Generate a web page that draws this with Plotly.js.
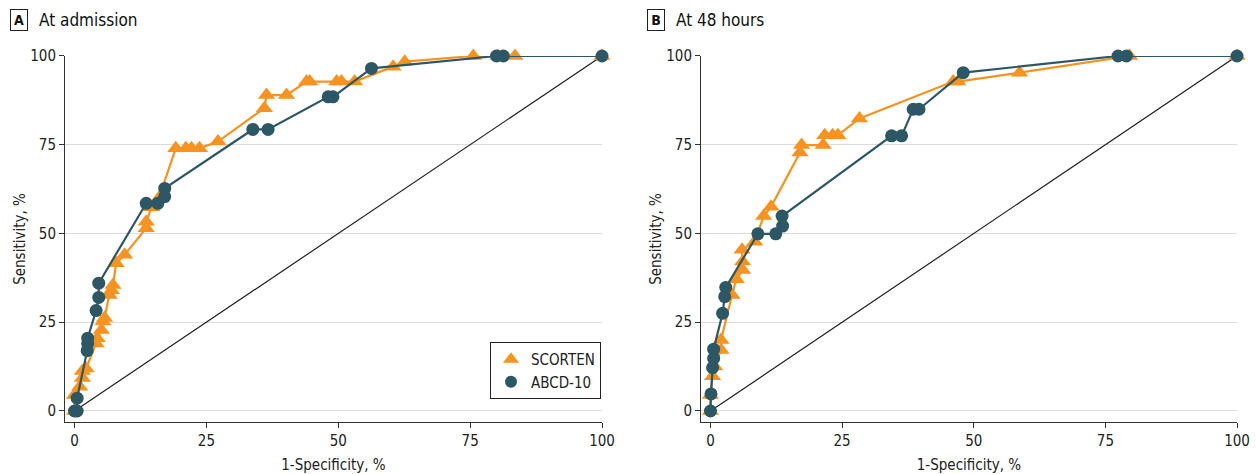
<!DOCTYPE html>
<html>
<head>
<meta charset="utf-8">
<script src="https://cdn.plot.ly/plotly-3.0.1.min.js"></script>
<style>
html,body{margin:0;padding:0;background:#fff;}
#chart{width:1258px;height:474px;}
</style>
</head>
<body>
<div id="chart"></div>
<script>
// Panel A: At admission
const scortenA_x = [0, 0, 1, 1.5, 1.5, 2.2, 4.1, 4.3, 5.1, 5.4, 5.7, 6.6, 7, 7.3, 7.9, 9.5, 13.6, 13.6, 14.6, 16, 19.2, 21.1, 22.2, 23.7, 27.2, 36, 36.4, 40.2, 44, 44.6, 49.7, 50.6, 53.1, 60.4, 62.6, 75.6, 80.3, 83.5, 100];
const scortenA_y = [0, 4.5, 6.8, 9.3, 11.3, 12, 19, 20.5, 22.8, 25.2, 26.2, 32.7, 34, 35.5, 41.6, 44, 51.5, 53.3, 57.4, 60, 74, 74, 74, 74, 75.9, 85.3, 89, 89, 92.8, 92.8, 92.8, 92.8, 92.8, 97, 98.4, 100, 100, 100, 100];
const abcdA_x = [0, 0.5, 0.5, 2.4, 2.5, 2.5, 4.1, 4.6, 4.6, 13.6, 15.8, 17.1, 17.1, 33.8, 36.7, 48.1, 49, 56.3, 80, 81.3, 100];
const abcdA_y = [0, 0, 3.6, 17, 19, 20.5, 28.3, 32, 36, 58.5, 58.5, 60.4, 62.7, 79.3, 79.3, 88.5, 88.5, 96.5, 100, 100, 100];

// Panel B: At 48 hours
const scortenB_x = [0, 0, 0.4, 0.8, 2, 2, 4.1, 4.9, 6.1, 6.1, 6, 8.4, 10.1, 11.5, 17, 17.3, 21.4, 21.7, 23.2, 24.2, 28.3, 46.1, 47, 58.7, 79.6, 100];
const scortenB_y = [0, 4.5, 9.8, 12.5, 17.2, 20, 32.7, 37.1, 39.7, 42.1, 45.4, 47.7, 54.9, 57.5, 72.8, 74.9, 74.9, 77.7, 77.7, 77.7, 82.4, 92.8, 92.8, 95.3, 100, 100];
const abcdB_x = [0, 0.1, 0.4, 0.6, 0.6, 2.3, 2.7, 2.9, 9, 12.4, 13.7, 13.6, 34.4, 36.3, 38.5, 39.6, 48, 77.4, 79, 100];
const abcdB_y = [0, 4.8, 12.2, 14.8, 17.4, 27.5, 32.2, 34.8, 49.9, 49.9, 52.1, 54.9, 77.5, 77.5, 85, 85, 95.3, 100, 100, 100];

const refLine = [0, 100];
const tickVals = [0, 25, 50, 75, 100];
const seriesNames = ["SCORTEN", "ABCD-10"];
const panelLetters = ["A", "B"];
const panelTitles = ["At admission", "At 48 hours"];
const xTitle = "1-Specificity, %";
const yTitle = "Sensitivity, %";

const ORANGE = "#F7931E";
const TEAL = "#2C5866";
const FONT = "'Liberation Sans Narrow', 'DejaVu Sans Condensed', Arial, sans-serif";
const TRI = {symbol: "triangle-up", size: 15, color: ORANGE};
const CIR = {symbol: "circle", size: 13, color: TEAL};

function ref(xa, ya) {
  return {x: refLine, y: refLine, xaxis: xa, yaxis: ya, mode: "lines",
    line: {color: "#222", width: 1.2}, showlegend: false, hoverinfo: "skip"};
}
function series(x, y, xa, ya, name, color, marker) {
  return {x: x, y: y, xaxis: xa, yaxis: ya, mode: "lines+markers", name: name,
    showlegend: false, cliponaxis: false,
    line: {color: color, width: 2.2}, marker: marker};
}
function legendOnly(name, marker) {
  return {x: [null], y: [null], xaxis: "x", yaxis: "y", mode: "markers", name: name,
    showlegend: true, marker: Object.assign({}, marker, {size: marker.size - 1})};
}

const data = [
  ref("x", "y"),
  series(scortenA_x, scortenA_y, "x", "y", seriesNames[0], ORANGE, TRI),
  series(abcdA_x, abcdA_y, "x", "y", seriesNames[1], TEAL, CIR),
  ref("x2", "y2"),
  series(scortenB_x, scortenB_y, "x2", "y2", seriesNames[0], ORANGE, TRI),
  series(abcdB_x, abcdB_y, "x2", "y2", seriesNames[1], TEAL, CIR),
  legendOnly(seriesNames[0], TRI),
  legendOnly(seriesNames[1], CIR)
];

function xax(domain, anchor) {
  return {domain: domain, anchor: anchor, range: [-1.8, 100], tickvals: tickVals,
    showgrid: false, zeroline: false, showline: true, linecolor: "#333", linewidth: 1,
    ticks: "outside", ticklen: 5, tickcolor: "#333",
    tickfont: {family: FONT, size: 15, color: "#222"},
    title: {text: xTitle, font: {family: FONT, size: 15, color: "#222"}, standoff: 12}};
}
function yax(anchor) {
  return {domain: [0.1097, 0.8819], anchor: anchor, range: [-3.1, 100], tickvals: tickVals,
    showgrid: true, gridcolor: "#dcdcdc", gridwidth: 1,
    zeroline: false, showline: true, linecolor: "#333", linewidth: 1,
    ticks: "outside", ticklen: 5, tickcolor: "#333",
    tickfont: {family: FONT, size: 15, color: "#222"},
    title: {text: yTitle, font: {family: FONT, size: 15, color: "#222"}, standoff: 0}};
}

const ann = [];
const letterX = [19, 656];
const titleX = [37, 674];
panelLetters.forEach((L, i) => {
  ann.push({xref: "paper", yref: "paper", x: letterX[i] / 1258, y: 1 - 20 / 474,
    xanchor: "center", yanchor: "middle", text: "<b>" + L + "</b>", showarrow: false,
    font: {family: FONT, size: 14, color: "#111"},
    bordercolor: "#222", borderwidth: 1, borderpad: 2, width: 12, height: 16});
  ann.push({xref: "paper", yref: "paper", x: titleX[i] / 1258, y: 1 - 20 / 474,
    xanchor: "left", yanchor: "middle", text: panelTitles[i], showarrow: false,
    font: {family: FONT, size: 17, color: "#111"}});
});

const layout = {
  width: 1258, height: 474,
  margin: {l: 0, r: 0, t: 0, b: 0},
  paper_bgcolor: "#fff", plot_bgcolor: "#fff",
  xaxis: xax([65 / 1258, 602 / 1258], "y"),
  yaxis: yax("x"),
  xaxis2: xax([701 / 1258, 1237 / 1258], "y2"),
  yaxis2: yax("x2"),
  showlegend: true,
  legend: {x: 601 / 1258, xanchor: "right", y: 1 - 342 / 474, yanchor: "top",
    bordercolor: "#222", borderwidth: 1, bgcolor: "#fff",
    font: {family: FONT, size: 15, color: "#222"},
    itemwidth: 30, tracegroupgap: 0},
  annotations: ann,
  font: {family: FONT}
};

Plotly.newPlot("chart", data, layout, {displayModeBar: false, staticPlot: true});
</script>
</body>
</html>
